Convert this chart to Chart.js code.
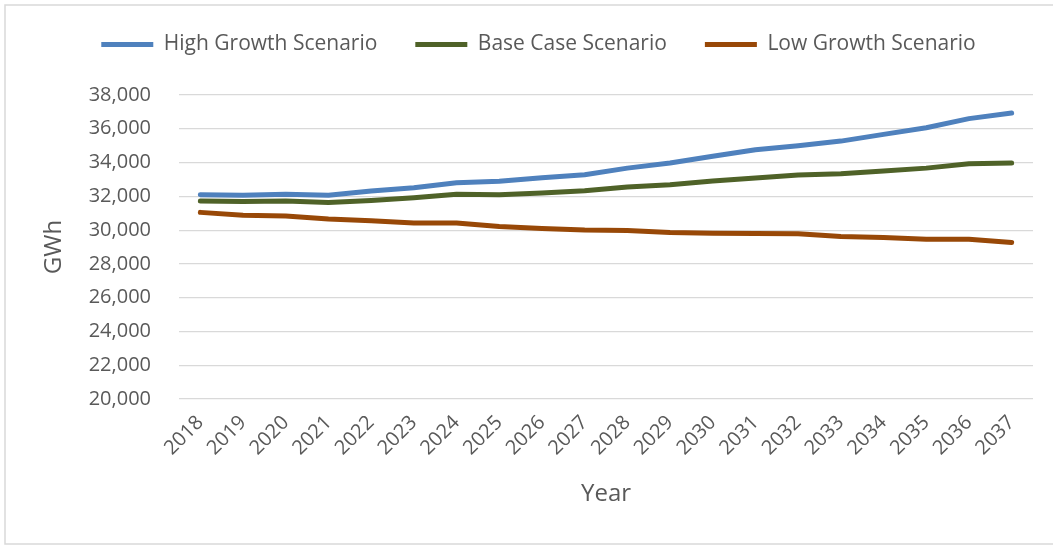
<!DOCTYPE html>
<html>
<head>
<meta charset="utf-8">
<title>Energy Forecast Scenarios</title>
<script src="https://cdn.jsdelivr.net/npm/chart.js@4/dist/chart.umd.min.js"></script>
<style>
  html, body { margin: 0; padding: 0; background: #ffffff; }
  #wrap { width: 1053px; height: 546px; position: relative; }
</style>
</head>
<body>
<div id="wrap"><canvas id="chart" width="1053" height="546"></canvas></div>
<script>
// Forecast years
const years = ['2018','2019','2020','2021','2022','2023','2024','2025','2026','2027',
               '2028','2029','2030','2031','2032','2033','2034','2035','2036','2037'];

// Annual energy (GWh) per scenario
const highGrowth = [32100, 32060, 32120, 32060, 32310, 32510, 32800, 32900, 33100, 33280,
                    33670, 33970, 34370, 34760, 35000, 35270, 35670, 36060, 36600, 36930];
const baseCase   = [31720, 31690, 31720, 31630, 31760, 31920, 32120, 32100, 32200, 32330,
                    32550, 32690, 32910, 33080, 33260, 33340, 33500, 33670, 33930, 33970];
const lowGrowth  = [31050, 30880, 30840, 30660, 30560, 30420, 30420, 30210, 30100, 30000,
                    29980, 29860, 29820, 29800, 29780, 29620, 29560, 29460, 29460, 29260];

// Value axis range
const yMin = 20000;
const yMax = 38000;
const yStep = 2000;

const FONT = '"Open Sans", "Noto Sans", sans-serif';
const TEXT = '#595959';
const GRID = '#d9d9d9';

const PAD_L = 44, PAD_R = 20, PAD_T = -4;
const PLOT_LEFT = 179, PLOT_TOP = 95, PLOT_BOTTOM = 399;

// Outer frame and white fill behind the chart
const frame = {
  id: 'frame',
  beforeDraw(chart) {
    const ctx = chart.ctx;
    ctx.save();
    ctx.fillStyle = '#ffffff';
    ctx.fillRect(0, 0, chart.width, chart.height);
    ctx.strokeStyle = GRID;
    ctx.lineWidth = 1.5;
    ctx.beginPath();
    ctx.moveTo(chart.width + 2, 5);
    ctx.lineTo(5, 5);
    ctx.lineTo(5, 544);
    ctx.lineTo(chart.width + 2, 544);
    ctx.stroke();
    ctx.restore();
  }
};

// Reserve the band between the legend and the plot area
const legendBand = {
  id: 'legendBand',
  beforeUpdate(chart) {
    const lg = chart.legend;
    if (lg && !lg.__banded) {
      const fit = lg.fit.bind(lg);
      lg.fit = function () { fit(); this.height = PLOT_TOP - PAD_T; };
      lg.__banded = true;
    }
  }
};

const series = (label, data, color) => ({
  label, data,
  borderColor: color,
  backgroundColor: color,
  borderWidth: 5,
  borderCapStyle: 'round',
  borderJoinStyle: 'round',
  pointRadius: 0,
  pointHoverRadius: 0,
  tension: 0,
  fill: false
});

new Chart(document.getElementById('chart'), {
  type: 'line',
  data: {
    labels: years,
    datasets: [
      series('High Growth Scenario', highGrowth, '#4f81bd'),
      series('Base Case Scenario', baseCase, '#4f6228'),
      series('Low Growth Scenario', lowGrowth, '#984807')
    ]
  },
  plugins: [frame, legendBand],
  options: {
    responsive: false,
    animation: false,
    events: [],
    layout: { padding: { left: PAD_L, right: PAD_R, top: PAD_T, bottom: 0 } },
    plugins: {
      tooltip: { enabled: false },
      legend: {
        position: 'top',
        align: 'center',
        labels: {
          usePointStyle: true,
          pointStyle: 'line',
          pointStyleWidth: 52,
          padding: 38,
          color: TEXT,
          font: { family: FONT, size: 21 }
        }
      }
    },
    scales: {
      x: {
        offset: true,
        grid: { display: false, drawTicks: false },
        border: { display: false },
        ticks: {
          color: TEXT,
          font: { family: FONT, size: 20 },
          minRotation: 45,
          maxRotation: 45,
          autoSkip: false,
          padding: 12
        },
        title: {
          display: true,
          text: 'Year',
          color: TEXT,
          font: { family: FONT, size: 24 },
          padding: { top: 0, bottom: 37 }
        },
        afterFit(scale) { scale.height = 546 - PLOT_BOTTOM; }
      },
      y: {
        min: yMin,
        max: yMax,
        grid: { color: GRID, lineWidth: 1.2, drawTicks: false },
        border: { display: false },
        ticks: {
          stepSize: yStep,
          color: TEXT,
          font: { family: FONT, size: 20 },
          padding: 28,
          callback: (v) => v.toLocaleString('en-US')
        },
        title: {
          display: true,
          text: 'GWh',
          color: TEXT,
          font: { family: FONT, size: 24 },
          padding: { top: -4, bottom: 0 }
        },
        afterFit(scale) { scale.width = PLOT_LEFT - PAD_L; }
      }
    }
  }
});
</script>
</body>
</html>
